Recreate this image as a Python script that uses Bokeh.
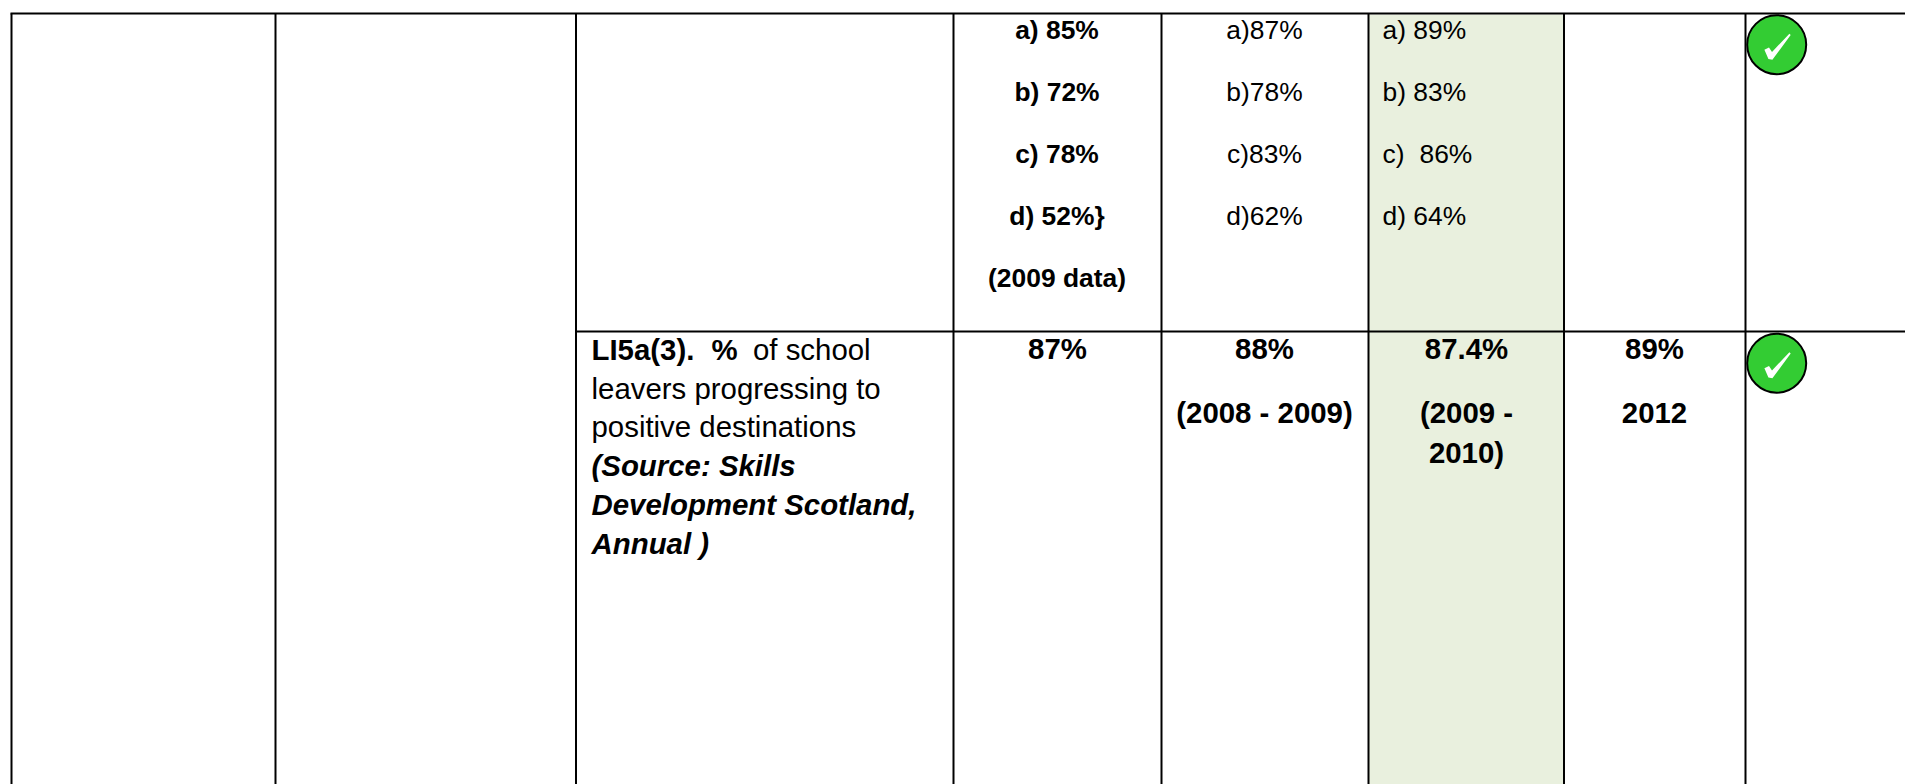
from bokeh.plotting import figure
from bokeh.embed import file_html
from bokeh.resources import INLINE
from bokeh.models import Range1d
from bokeh.core.properties import value

# Table contents
indicator_runs = [
    [("LI5a(3).", "bold"), ("%", "bold"), ("of school", "normal")],
    [("leavers progressing to", "normal")],
    [("positive destinations", "normal")],
    [("(Source: Skills", "bold italic")],
    [("Development Scotland,", "bold italic")],
    [("Annual )", "bold italic")],
]
baseline_col = ["a) 85%", "b) 72%", "c) 78%", "d) 52%}", "(2009 data)"]
latest_col = ["a)87%", "b)78%", "c)83%", "d)62%"]
current_col = [["a) 89%"], ["b) 83%"], ["c)", "86%"], ["d) 64%"]]
row2_baseline = ["87%"]
row2_latest = ["88%", "(2008 - 2009)"]
row2_current = ["87.4%", "(2009 -", "2010)"]
row2_target = ["89%", "2012"]

W, H = 1905, 784
FONT = "Liberation Sans"
p = figure(width=W, height=H, output_backend="svg", toolbar_location=None,
           x_range=Range1d(0, W), y_range=Range1d(H, 0),
           min_border=0, outline_line_color=None)
p.axis.visible = False
p.grid.visible = False

# geometry in page pixels
vlines = [11, 275, 575.5, 953, 1161, 1368, 1563.5, 1745]
top_y, mid_y, bottom = 13, 331, 790
right = 1910

p.quad(left=[1368], right=[1563.5], top=[14], bottom=[bottom], fill_color="#E9F0DE", line_color=None)
p.segment(x0=vlines, x1=vlines, y0=[top_y] * 8, y1=[bottom] * 8, line_color="black", line_width=2)
p.segment(x0=[10, 575], x1=[right, right], y0=[top_y, mid_y], y1=[top_y, mid_y], line_color="black", line_width=2)


def put(x, y, t, size=26.4, style="normal", align="left"):
    # the renderer sets this baseline about 0.36 em lower than asked
    p.text(x=[x], y=[y - 0.36 * size], text=[t], text_font=value(FONT), text_font_size=f"{size}px",
           text_font_style=style, text_align=align, text_baseline="alphabetic", text_color="black")


step = 62
BIG = 29.4
for i, t in enumerate(baseline_col):
    put(1056.5, 39.2 + step * i, t, style="bold", align="center")
for i, t in enumerate(latest_col):
    put(1264, 39.2 + step * i, t, align="center")
for i, runs in enumerate(current_col):
    for t, x in zip(runs, [1382, 1419]):
        put(x, 39.2 + step * i, t)

put(1057, 359, row2_baseline[0], size=BIG, style="bold", align="center")
for i, t in enumerate(row2_latest):
    put(1264, [359, 423][i], t, size=BIG, style="bold", align="center")
for i, t in enumerate(row2_current):
    put(1466, [359, 423, 463][i], t, size=BIG, style="bold", align="center")
for i, t in enumerate(row2_target):
    put(1654, [359, 423][i], t, size=BIG, style="bold", align="center")

xs = [[591, 711, 752.5], [591], [591], [591], [591], [591]]
for j, runs in enumerate(indicator_runs):
    for (t, st), x in zip(runs, xs[j]):
        put(x, 359.6 + 38.7 * j, t, size=BIG, style=st)

# status ticks
cx = [1776.2, 1776.2]
cy = [44.2, 362.7]
tick_dx = [-12.3, -7.7, -4.7, 12.7, 14, -4.3, -8.3]
tick_dy = [5, 2.7, 7.3, -11, -9.7, 15, 14.3]
p.scatter(x=cx, y=cy, size=59, marker="circle", fill_color="#33CC33", line_color="black", line_width=2)
p.patches(xs=[[x + d for d in tick_dx] for x in cx], ys=[[y + d for d in tick_dy] for y in cy],
          fill_color="white", line_color=None)

open("out.html", "w").write(file_html(p, INLINE))
